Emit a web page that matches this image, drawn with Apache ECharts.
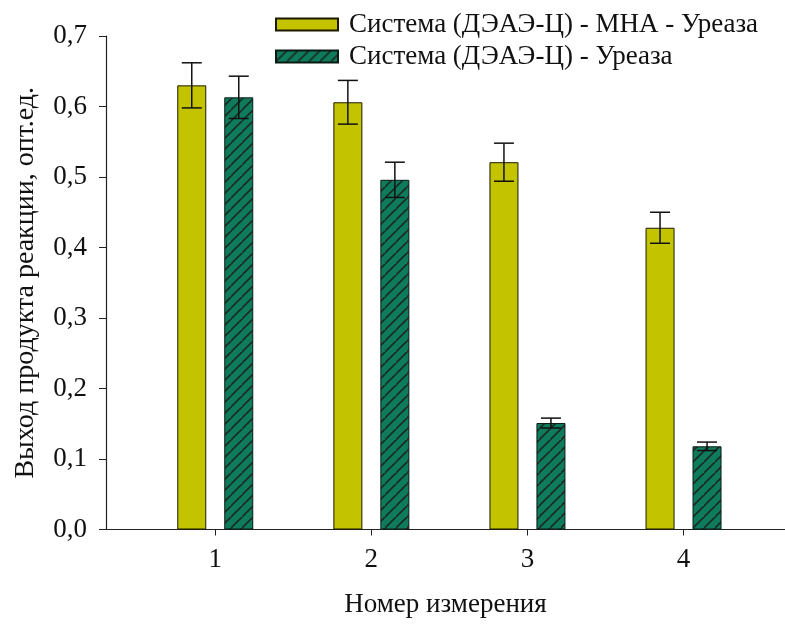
<!DOCTYPE html>
<html>
<head>
<meta charset="utf-8">
<script src="https://cdn.jsdelivr.net/npm/echarts@6/dist/echarts.min.js"></script>
<style>
  html, body { margin: 0; padding: 0; background: #fff; }
  #chart { width: 785px; height: 626px; }
</style>
</head>
<body>
<div id="chart"></div>
<script>
// measurement numbers on the x axis
const categories = [1, 2, 3, 4];
const seriesNames = ['Система (ДЭАЭ-Ц) - МНА - Уреаза', 'Система (ДЭАЭ-Ц) - Уреаза'];
// reaction product yield, opt. units
const mnaValues = [0.630, 0.606, 0.521, 0.428];
const mnaErrors = [0.032, 0.031, 0.027, 0.022];
const ureaseValues = [0.613, 0.496, 0.151, 0.118];
const ureaseErrors = [0.030, 0.025, 0.007, 0.006];
const yTicks = [0, 0.1, 0.2, 0.3, 0.4, 0.5, 0.6, 0.7];

const FONT = 'Liberation Serif';
const YELLOW = '#c4c300';
const GREEN = '#0e7c5c';

// hatched fill for the second series
function makeHatch() {
    const s = 11;
    const c = document.createElement('canvas');
    c.width = s; c.height = s;
    const ctx = c.getContext('2d');
    ctx.fillStyle = GREEN;
    ctx.fillRect(0, 0, s, s);
    ctx.strokeStyle = '#1c2a22';
    ctx.lineWidth = 1.6;
    ctx.beginPath();
    ctx.moveTo(-2, s + 2); ctx.lineTo(s + 2, -2);
    ctx.moveTo(-2 - s, s + 2); ctx.lineTo(2, -2);
    ctx.moveTo(s - 2, 2 * s + 2); ctx.lineTo(2 * s + 2, s - 2);
    ctx.stroke();
    return c;
}
const hatch = { image: makeHatch(), repeat: 'repeat' };

const BAR_W = 29;
const BAR_OFFSET = 23.5;

function errorSeries(values, errors, offset) {
    return {
        type: 'custom',
        z: 5,
        silent: true,
        data: categories.map((c, i) => [c, values[i] - errors[i], values[i] + errors[i]]),
        renderItem: function (params, api) {
            const lo = api.coord([api.value(0), api.value(1)]);
            const hi = api.coord([api.value(0), api.value(2)]);
            const x = lo[0] + offset;
            const cap = 10;
            const style = { stroke: '#111', lineWidth: 1.5 };
            return {
                type: 'group',
                children: [
                    { type: 'line', shape: { x1: x, y1: lo[1], x2: x, y2: hi[1] }, style },
                    { type: 'line', shape: { x1: x - cap, y1: lo[1], x2: x + cap, y2: lo[1] }, style },
                    { type: 'line', shape: { x1: x - cap, y1: hi[1], x2: x + cap, y2: hi[1] }, style }
                ]
            };
        }
    };
}

const chart = echarts.init(document.getElementById('chart'));
chart.setOption({
    backgroundColor: '#fff',
    animation: false,
    textStyle: { fontFamily: FONT },
    legend: {
        orient: 'vertical',
        left: 270,
        top: 6,
        itemWidth: 62,
        itemHeight: 12,
        itemGap: 5,
        icon: 'rect',
        textStyle: { fontFamily: FONT, fontSize: 27, color: '#111', padding: [0, 0, 0, 6] },
        data: seriesNames
    },
    grid: { left: 106, right: 0, top: 36, bottom: 96.5, containLabel: false },
    xAxis: {
        type: 'value',
        min: 0.3,
        max: 4.65,
        name: 'Номер измерения',
        nameLocation: 'middle',
        nameGap: 62,
        nameTextStyle: { fontFamily: FONT, fontSize: 27, color: '#111' },
        splitLine: { show: false },
        axisLine: { show: true, onZero: false, lineStyle: { color: '#222', width: 1.2 } },
        axisTick: { show: true, length: 6, customValues: categories, lineStyle: { color: '#222' } },
        axisLabel: { customValues: categories, margin: 17, fontFamily: FONT, fontSize: 27, color: '#111' }
    },
    yAxis: {
        type: 'value',
        min: 0,
        max: 0.7,
        interval: 0.1,
        name: 'Выход продукта реакции, опт.ед.',
        nameLocation: 'middle',
        nameGap: 66,
        nameTextStyle: { fontFamily: FONT, fontSize: 28, color: '#111' },
        splitLine: { show: false },
        axisLine: { show: true, lineStyle: { color: '#222', width: 1.2 } },
        axisTick: { show: true, length: 7, lineStyle: { color: '#222' } },
        axisLabel: {
            margin: 19,
            fontFamily: FONT, fontSize: 27, color: '#111',
            formatter: v => yTicks.includes(Math.round(v * 10) / 10) ? v.toFixed(1).replace('.', ',') : ''
        }
    },
    series: [
        {
            name: seriesNames[0],
            type: 'bar',
            barWidth: BAR_W,
            barGap: '62%',
            data: categories.map((c, i) => [c, mnaValues[i]]),
            itemStyle: { color: YELLOW, borderColor: '#1a1a00', borderWidth: 1 }
        },
        {
            name: seriesNames[1],
            type: 'bar',
            barWidth: BAR_W,
            barGap: '62%',
            data: categories.map((c, i) => [c, ureaseValues[i]]),
            itemStyle: { color: hatch, borderColor: '#0a1a12', borderWidth: 1 }
        },
        errorSeries(mnaValues, mnaErrors, -BAR_OFFSET),
        errorSeries(ureaseValues, ureaseErrors, BAR_OFFSET)
    ]
});
</script>
</body>
</html>
